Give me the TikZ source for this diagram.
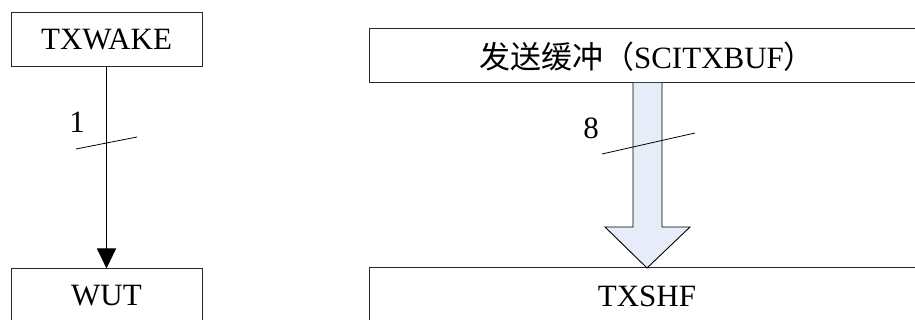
\documentclass[tikz,border=0pt]{standalone}
\usepackage{fontspec}
\setmainfont{Liberation Serif}
\newfontfamily\cjk{Noto Sans CJK SC}
\usetikzlibrary{arrows.meta}
\definecolor{boxline}{RGB}{40,40,40}
\definecolor{arrowfill}{RGB}{230,236,248}
\begin{document}
\begin{tikzpicture}[x=1pt,y=-1pt,
  blk/.style={draw=boxline,line width=1pt,fill=white,inner sep=0pt,font=\fontsize{31}{31}\selectfont},
  lbl/.style={inner sep=0pt,font=\fontsize{31}{31}\selectfont},
  slash/.style={draw=black,line width=0.8pt}]
\clip (0,0) rectangle (915,320);
\fill[white] (0,0) rectangle (915,320);
% left column
\node[blk,minimum width=191pt,minimum height=54pt] (txwake) at (106.5,40) {TXWAKE};
\node[blk,minimum width=191pt,minimum height=54pt] (wut) at (106.5,296) {WUT};
\draw[line width=0.9pt,-{Triangle[width=19pt,length=20pt]}] (txwake.south) -- (wut.north);
\node[lbl] (one) at (77,122) {1};
\draw[slash] (76,149) -- (137,137);
% right column
\node[blk,minimum width=562pt,minimum height=54pt] (buf) at (650,56) {};
\node[lbl] (buftext) at (647,57) {{\cjk 发送缓冲（}SCITXBUF{\cjk ）}};
\node[blk,minimum width=562pt,minimum height=54pt] (txshf) at (650,295) {};
\node[lbl] (txshftext) at (647,296) {TXSHF};
\coordinate (tip) at (647,268);
\coordinate (tail) at (647,83);
\filldraw[fill=arrowfill,draw=black,line width=0.9pt]
  ([xshift=-14pt]tail) -- ([xshift=-14pt]tail |- 0,227) -- ([xshift=-42pt]tail |- 0,227)
  -- (tip) -- ([xshift=43pt]tail |- 0,227) -- ([xshift=15pt]tail |- 0,227) -- ([xshift=15pt]tail);
\node[lbl] (eight) at (591,128) {8};
\draw[slash] (602,154) -- (695,133);
\end{tikzpicture}
\end{document}
